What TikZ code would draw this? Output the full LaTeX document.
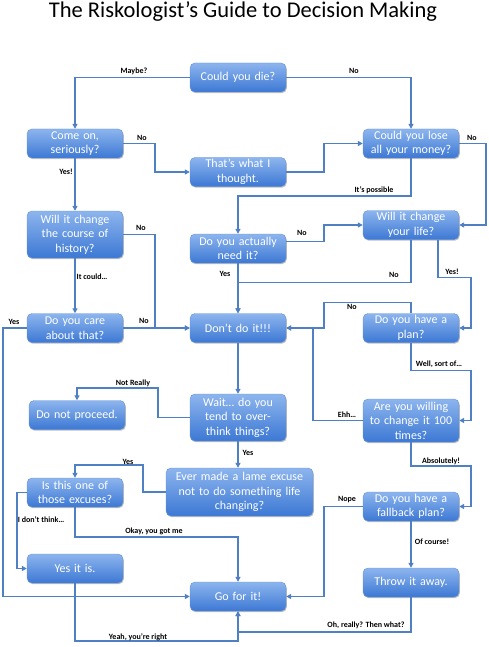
\documentclass[tikz,border=0pt]{standalone}
\usepackage{fontspec}
\setmainfont{Carlito}
\usetikzlibrary{arrows.meta,shadows}
\definecolor{boxtop}{RGB}{141,181,238}
\definecolor{boxbot}{RGB}{60,120,212}
\definecolor{boxedge}{RGB}{100,145,215}
\definecolor{conncol}{RGB}{80,128,196}
\begin{document}
\begin{tikzpicture}[x=1pt,y=-1pt]
	\tikzset{box/.style={rounded corners=5pt, top color=boxtop, bottom color=boxbot, draw=boxedge, line width=0.4pt,
			drop shadow={shadow xshift=0.8pt, shadow yshift=-1.2pt, opacity=0.25, fill=black},
			text=white, text width=92pt, inner xsep=2pt, inner ysep=0.5pt, minimum height=29pt, align=center,
			font=\fontsize{12}{14.5}\selectfont},
		tallbox/.style={box, minimum height=47pt},
		widebox/.style={box, text width=143pt},
		conn/.style={draw=conncol, line width=1.5pt, -{Triangle[length=5pt,width=5pt]}},
		lbl/.style={inner sep=0pt, font=\fontsize{8}{9}\selectfont\bfseries}}
	\useasboundingbox (0,0) rectangle (488,647);
	\node[font=\fontsize{22.5}{26}\selectfont] (title) at (243,12) {The Riskologist’s Guide to Decision Making};
	\node[box] (die) at (238,77.5) {Could you die?};
	\node[box] (come) at (75,143.5) {Come on,\\seriously?};
	\node[box] (thought) at (238,172) {That’s what I\\thought.};
	\node[box] (money) at (411,143.5) {Could you lose\\all your money?};
	\node[tallbox] (history) at (75,234.5) {Will it change\\the course of\\history?};
	\node[box] (need) at (238,248.5) {Do you actually\\need it?};
	\node[box] (life) at (411,225) {Will it change\\your life?};
	\node[box] (care) at (75,328) {Do you care\\about that?};
	\node[box] (dont) at (238,328) {Don’t do it!!!};
	\node[box] (plan) at (411,328) {Do you have a\\plan?};
	\node[box] (noproc) at (77,415) {Do not proceed.};
	\node[tallbox] (wait) at (238,417.5) {Wait… do you\\tend to over-\\think things?};
	\node[box, minimum height=43pt] (willing) at (411,420.5) {Are you willing\\to change it 100\\times?};
	\node[widebox, minimum height=48pt] (excuse) at (239.5,492) {Ever made a lame excuse\\not to do something life\\changing?};
	\node[box] (isthis) at (75,492.5) {Is this one of\\those excuses?};
	\node[box] (fallback) at (411,506.5) {Do you have a\\fallback plan?};
	\node[box] (yesit) at (75,568.5) {Yes it is.};
	\node[box] (go) at (238,596.5) {Go for it!};
	\node[box] (throw) at (411,582.5) {Throw it away.};

	\draw[conn] (die.west) -| (come.north);
	\draw[conn] (die.east) -| (money.north);
	\draw[conn] (come.east) -- +(32,0) |- (thought.west);
	\draw[conn] (come.south) -- (history.north);
	\draw[conn] (thought.east) -- +(38,0) |- (money.west);
	\draw[conn] (money.south) -- +(0,38) -| (need.north);
	\draw[conn] (money.east) -- +(27,0) |- (life.east);
	\draw[conn] (history.east) -- +(32,0) |- (dont.west);
	\draw[conn] (history.south) -- (care.north);
	\draw[conn] ([yshift=7pt]need.east) -- +(38,0) |- (life.west);
	\draw[conn] (need.south) -- (dont.north);
	\draw[conn] (life.south) -- +(0,43) -| (dont.north);
	\draw[conn] ([xshift=27pt]life.south) -- +(0,38) -- +(33,38) |- (plan.east);
	\draw[conn] (plan.north) -- +(0,-11) -- +(-87,-11) |- (dont.east);
	\draw[conn] (plan.south) -- +(0,28) -- +(60,28) |- (willing.east);
	\draw[conn] (willing.west) -- +(-50,0) |- (dont.east);
	\draw[conn] (care.east) -- (dont.west);
	\draw[conn] (care.west) -- +(-24,0) |- (go.west);
	\draw[conn] (dont.south) -- (wait.north);
	\draw[conn] (wait.west) -- +(-32,0) -- +(-32,-29.5) -| (noproc.north);
	\draw[conn] (wait.south) -- (wait.south |- excuse.north);
	\draw[conn] (excuse.west) -- +(-23,0) -- +(-23,-27) -| (isthis.north);
	\draw[conn] (isthis.west) -- +(-10,0) |- (yesit.west);
	\draw[conn] (isthis.south) -- +(0,30) -| (go.north);
	\draw[conn] (yesit.south) -- +(0,58) -| (go.south);
	\draw[conn] (throw.south) -- +(0,35) -| (go.south);
	\draw[conn] (fallback.west) -- +(-39,0) |- (go.east);
	\draw[conn] (fallback.south) -- (throw.north);
	\draw[conn] (willing.south) -- +(0,24) -- +(60,24) |- (fallback.east);

	\node[lbl] (l1) at (134,71) {Maybe?};
	\node[lbl] (l2) at (354,71) {No};
	\node[lbl] (l3) at (142,138) {No};
	\node[lbl] (l4) at (66,172) {Yes!};
	\node[lbl] (l5) at (374,190) {It’s possible};
	\node[lbl] (l6) at (472,138) {No};
	\node[lbl] (l7) at (141,228) {No};
	\node[lbl] (l8) at (92,277) {It could…};
	\node[lbl] (l9) at (302,233) {No};
	\node[lbl] (l10) at (225,274) {Yes};
	\node[lbl] (l11) at (394,275) {No};
	\node[lbl] (l12) at (452,272) {Yes!};
	\node[lbl] (l13) at (352,307) {No};
	\node[lbl] (l14) at (14,322) {Yes};
	\node[lbl] (l15) at (144,321) {No};
	\node[lbl] (l16) at (439,364) {Well, sort of…};
	\node[lbl] (l17) at (133,383) {Not Really};
	\node[lbl] (l18) at (347,415) {Ehh…};
	\node[lbl] (l19) at (248,453) {Yes};
	\node[lbl] (l20) at (441,461) {Absolutely!};
	\node[lbl] (l21) at (128,462) {Yes};
	\node[lbl] (l22) at (347,500) {Nope};
	\node[lbl] (l23) at (41,520) {I don’t think…};
	\node[lbl] (l24) at (154,531) {Okay, you got me};
	\node[lbl] (l25) at (432,542) {Of course!};
	\node[lbl] (l26) at (366,625) {Oh, really? Then what?};
	\node[lbl] (l27) at (138,637) {Yeah, you’re right};
\end{tikzpicture}
\end{document}
